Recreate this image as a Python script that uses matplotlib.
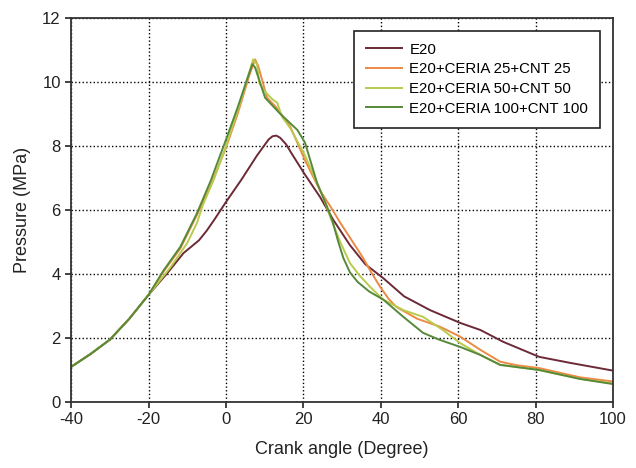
import matplotlib
matplotlib.use('Agg')
import matplotlib.pyplot as plt

plt.rcParams['font.family'] = ['Liberation Sans', 'DejaVu Sans']
plt.rcParams['axes.unicode_minus'] = False

# crank angle (deg) / pressure (MPa)
x_e20 = [-40, -35, -30, -25, -20, -15, -13, -11, -9, -7, -5, -3, 0, 4, 8, 11, 12, 13, 14, 15.5, 17, 20.4, 24.3, 27.7,
         32, 36, 40.6, 46, 52.7, 60.5, 65.7, 71.6, 80.9, 89, 100]
p_e20 = [1.1, 1.5, 1.95, 2.6, 3.35, 4.05, 4.35, 4.65, 4.85, 5.05, 5.35, 5.7, 6.25, 6.95, 7.7, 8.2, 8.3, 8.32, 8.25, 8.05,
         7.75, 7.1, 6.4, 5.69, 4.9, 4.3, 3.87, 3.3, 2.87, 2.47, 2.25, 1.88, 1.41, 1.22, 0.98]

x_c25 = [-40, -35, -30, -25, -20, -16, -11.8, -7.5, -4, 0, 3, 6, 7.5, 8.3, 10.6, 13, 16.6, 20.4, 24.3, 27,
         29.5, 33, 35.4, 37.5, 39.8, 42, 44, 49.4, 55.3, 60.5, 65.7, 70.8, 75, 80.9, 86, 91.5, 100]
p_c25 = [1.1, 1.5, 1.95, 2.6, 3.35, 4.1, 4.8, 5.85, 6.75, 7.95, 9.0, 10.2, 10.7, 10.5, 9.5, 9.2, 8.6, 7.55, 6.6, 6.1,
         5.6, 4.95, 4.5, 4.05, 3.6, 3.22, 2.97, 2.6, 2.35, 2.04, 1.63, 1.26, 1.15, 1.06, 0.92, 0.77, 0.64]

x_c50 = [-40, -35, -30, -25, -20, -14.4, -10, -7.5, -6, -3, 0, 3, 5.5, 7, 8, 8.6, 10, 12, 13.2, 14.5, 16.6,
         20.4, 25.1, 27, 29.5, 32, 34.5, 37.2, 40.6, 45.8, 50.9, 56, 60.5, 65.7, 70.8, 80.9, 91.5, 100]
p_c50 = [1.1, 1.5, 1.95, 2.6, 3.35, 4.2, 4.97, 5.6, 6.15, 7.0, 8.0, 9.1, 10.1, 10.7, 10.55, 9.95, 9.7, 9.45, 9.35, 8.9, 8.55,
         7.7, 6.4, 5.75, 5.0, 4.34, 3.95, 3.6, 3.2, 2.87, 2.66, 2.25, 1.84, 1.47, 1.16, 1.0, 0.72, 0.58]

x_c100 = [-40, -35, -30, -25, -20, -16.2, -11.8, -7.5, -4, 0, 3, 5.5, 6.8, 7.5, 8.8, 10.1, 14, 18.4, 20.4, 23.5,
          26.1, 27.5, 29, 30.3, 32, 34, 37, 40.6, 45.8, 50.9, 55, 60.5, 63, 65.7, 70.8, 80.9, 91.5, 100]
p_c100 = [1.1, 1.5, 1.95, 2.6, 3.35, 4.1, 4.85, 5.9, 6.9, 8.2, 9.2, 10.1, 10.55, 10.45, 9.97, 9.5, 9.0, 8.5, 8.1, 6.85,
          6.1, 5.65, 5.0, 4.5, 4.05, 3.75, 3.45, 3.2, 2.66, 2.16, 1.95, 1.72, 1.6, 1.47, 1.16, 1.0, 0.72, 0.56]

labels = ['E20', 'E20+CERIA 25+CNT 25', 'E20+CERIA 50+CNT 50', 'E20+CERIA 100+CNT 100']
colors = ['#6b2a36', '#ec8a45', '#b9cb4c', '#56893a']

fig = plt.figure(figsize=(6.36, 4.68), dpi=100)
ax = fig.add_axes([0.112, 0.141, 0.852, 0.821])

series = [(x_e20, p_e20), (x_c25, p_c25), (x_c50, p_c50), (x_c100, p_c100)]
for (xs, ps), lab, c in zip(series, labels, colors):
    ax.plot(xs, ps, color=c, lw=1.4, label=lab)

ax.set_xlim(-40, 100)
ax.set_ylim(0, 12)
ax.set_xticks(range(-40, 101, 20))
ax.set_yticks(range(0, 13, 2))
ax.grid(True, ls=':', color='black', lw=1)
ax.tick_params(direction='out', length=4, width=1.2, labelsize=12, colors='#222222',
               top=False, right=False)
for s in ax.spines.values():
    s.set_linewidth(1.3)
    s.set_color('#333333')

ax.set_xlabel('Crank angle (Degree)', fontsize=13, color='#222222', labelpad=10)
ax.set_ylabel('Pressure (MPa)', fontsize=13, color='#222222', labelpad=8)

leg = ax.legend(loc='upper right', fontsize=10.8, handlelength=2.4, handletextpad=0.5,
                labelspacing=0.38, borderpad=0.8, borderaxespad=0.85, fancybox=False, framealpha=1,
                edgecolor='#222222')
leg.get_frame().set_linewidth(1.2)

fig.savefig('out.png', dpi=100)
